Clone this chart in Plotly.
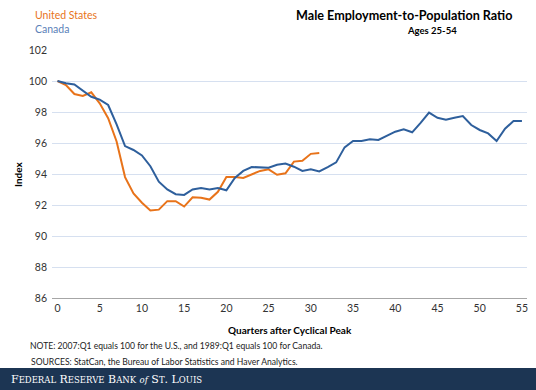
import plotly.graph_objects as go

quarters_us = list(range(0, 32))
us_index = [100.0, 99.74, 99.16, 99.03, 99.27, 98.56, 97.6, 96.1, 93.8, 92.75,
            92.15, 91.65, 91.7, 92.25, 92.25, 91.9, 92.5, 92.47, 92.35, 92.85,
            93.8, 93.8, 93.75, 93.95, 94.2, 94.3, 93.95, 94.05, 94.8, 94.85,
            95.3, 95.35]

quarters_ca = list(range(0, 56))
ca_index = [100.0, 99.85, 99.78, 99.37, 98.98, 98.8, 98.45, 97.2, 95.8, 95.55,
            95.2, 94.5, 93.5, 93.0, 92.7, 92.65, 93.0, 93.1, 93.0, 93.1,
            92.95, 93.75, 94.2, 94.45, 94.42, 94.4, 94.6, 94.67, 94.47, 94.2,
            94.3, 94.17, 94.45, 94.75, 95.72, 96.13, 96.13, 96.24, 96.2, 96.45,
            96.73, 96.88, 96.69, 97.3, 97.96, 97.63, 97.5, 97.63, 97.74, 97.16,
            96.84, 96.62, 96.13, 96.92, 97.42, 97.42]

x_ticks = list(range(0, 56, 5))
y_ticks = list(range(86, 103, 2))

US_COLOR = "#E8731A"
CA_COLOR = "#2E5F9C"
FONT = "Lato"

W, H = 536, 390
ML, MR, MT, MB = 52, 9, 50, 92
PW, PH = W - ML - MR, H - MT - MB


def px(x):
    return (x - ML) / PW


def py(y):
    return (H - MB - y) / PH


fig = go.Figure()
fig.add_trace(go.Scatter(x=quarters_us, y=us_index, mode="lines", name="United States",
                         line=dict(color=US_COLOR, width=2)))
fig.add_trace(go.Scatter(x=quarters_ca, y=ca_index, mode="lines", name="Canada",
                         line=dict(color=CA_COLOR, width=2)))

annotations = [
    dict(text="<b>Male Employment-to-Population Ratio</b>", x=px(514), y=py(15),
         xanchor="right", yanchor="middle", font=dict(size=12.6, color="#000000", family=FONT)),
    dict(text="<b>Ages 25-54</b>", x=px(432), y=py(31), xanchor="center", yanchor="middle",
         font=dict(size=9.5, color="#000000", family=FONT)),
    dict(text="United States", x=px(33), y=py(15), xanchor="left", yanchor="middle",
         font=dict(size=10.5, color=US_COLOR, family=FONT)),
    dict(text="Canada", x=px(33), y=py(29), xanchor="left", yanchor="middle",
         font=dict(size=10.5, color="#5B7FB8", family=FONT)),
    dict(text="<b>Quarters after Cyclical Peak</b>", x=px(290), y=py(330), xanchor="center",
         yanchor="middle", font=dict(size=10, color="#000000", family=FONT)),
    dict(text="<b>Index</b>", x=px(18), y=py(175), xanchor="center", yanchor="middle",
         textangle=-90, font=dict(size=10, color="#000000", family=FONT)),
    dict(text="NOTE: 2007:Q1 equals 100 for the U.S., and 1989:Q1 equals 100 for Canada.",
         x=px(28), y=py(346), xanchor="left", yanchor="middle",
         font=dict(size=8.6, color="#222222", family=FONT)),
    dict(text="SOURCES: StatCan, the Bureau of Labor Statistics and Haver Analytics.",
         x=px(29), y=py(362), xanchor="left", yanchor="middle",
         font=dict(size=8.6, color="#222222", family=FONT)),
    dict(text="F<span style='font-size:8.5px'>EDERAL</span> R<span style='font-size:8.5px'>ESERVE</span> "
              "B<span style='font-size:8.5px'>ANK</span> <i style='font-size:8.5px'>of</i> S<span style='font-size:8.5px'>T</span>. "
              "L<span style='font-size:8.5px'>OUIS</span>",
         x=px(9), y=py(379), xanchor="left", yanchor="middle",
         font=dict(size=11, color="#FFFFFF", family="DejaVu Serif")),
]
for a in annotations:
    a.update(xref="paper", yref="paper", showarrow=False)

fig.update_layout(
    width=W, height=H,
    margin=dict(l=ML, r=MR, t=MT, b=MB),
    paper_bgcolor="#FFFFFF", plot_bgcolor="#FFFFFF",
    showlegend=False,
    font=dict(family=FONT, size=10, color="#333333"),
    annotations=annotations,
    shapes=[dict(type="rect", xref="paper", yref="paper",
                 x0=px(0), x1=px(W), y0=py(H), y1=py(368),
                 fillcolor="#1C3553", line=dict(width=0), layer="above")],
    xaxis=dict(range=[-0.65, 55.6], tickvals=x_ticks, showgrid=False, zeroline=False,
               showline=True, linecolor="#A6A6A6", linewidth=1, ticks="",
               tickfont=dict(size=10.5, color="#333333"), fixedrange=True),
    yaxis=dict(range=[86, 102], tickvals=y_ticks, showgrid=True, gridcolor="#D6E0F0",
               gridwidth=1, zeroline=False, showline=False, ticks="", ticklabelstandoff=4,
               tickfont=dict(size=10.5, color="#333333"), fixedrange=True),
)

fig.write_html("out.html", config={"displayModeBar": False},
               post_script="document.body.style.margin='0px';document.body.style.overflow='hidden';")
